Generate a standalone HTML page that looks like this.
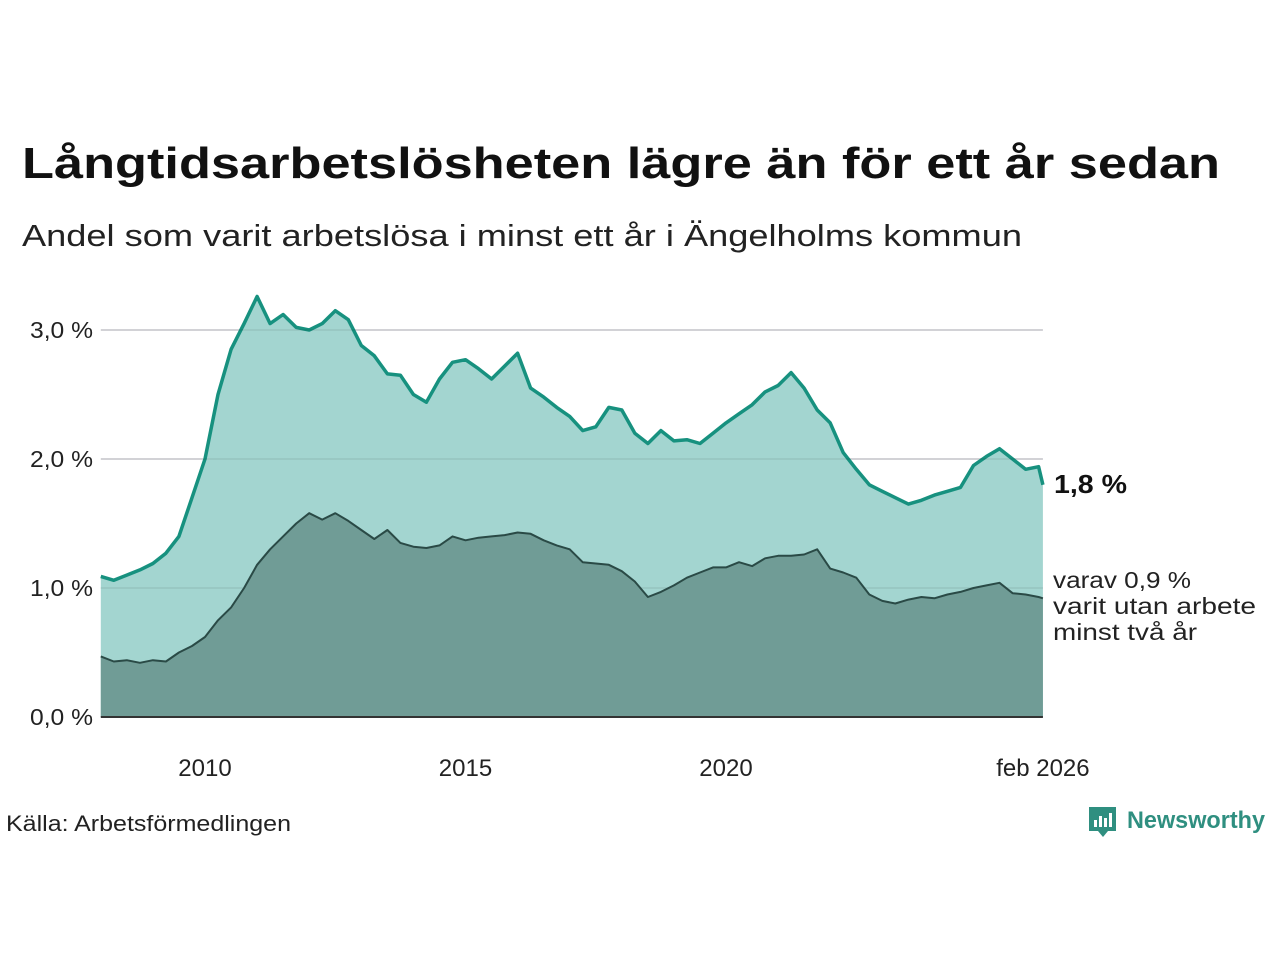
<!DOCTYPE html>
<html><head><meta charset="utf-8"><style>
html,body{margin:0;padding:0;background:#fff;}
svg{display:block;font-family:"Liberation Sans","DejaVu Sans",sans-serif;}
</style></head><body>
<svg id="chart" width="1280" height="960" viewBox="0 0 1280 960">
<text x="22" y="178" font-size="44" font-weight="bold" fill="#111" textLength="1198" lengthAdjust="spacingAndGlyphs">Långtidsarbetslösheten lägre än för ett år sedan</text>
<text x="22" y="246" font-size="31" fill="#222" textLength="1000" lengthAdjust="spacingAndGlyphs">Andel som varit arbetslösa i minst ett år i Ängelholms kommun</text>
<g id="grid"></g>
<g id="areas"></g>
<g id="yaxis"></g>
<g id="xaxis"></g>
<text x="1054" y="493" font-size="26" font-weight="bold" fill="#111" textLength="73" lengthAdjust="spacingAndGlyphs">1,8 %</text>
<g font-size="23" fill="#222">
<text x="1053" y="588" textLength="138" lengthAdjust="spacingAndGlyphs">varav 0,9 %</text>
<text x="1053" y="614" textLength="203" lengthAdjust="spacingAndGlyphs">varit utan arbete</text>
<text x="1053" y="640" textLength="144" lengthAdjust="spacingAndGlyphs">minst två år</text>
</g>
<text x="6" y="831" font-size="22" fill="#222" textLength="285" lengthAdjust="spacingAndGlyphs">Källa: Arbetsförmedlingen</text>
<g>
<path d="M1089 807 h27 v24 h-8 l-5 6 l-5 -6 h-9 z" fill="#2f8f80"/>
<rect x="1094" y="820" width="3" height="7" fill="#fff"/><rect x="1099" y="816" width="3" height="11" fill="#fff"/><rect x="1104" y="818" width="3" height="9" fill="#fff"/><rect x="1109" y="813" width="3" height="14" fill="#fff"/>
<text x="1127" y="828" font-size="24" font-weight="bold" fill="#2f8f80" textLength="138" lengthAdjust="spacingAndGlyphs">Newsworthy</text>
</g>
</svg>
<script>
const totalValues=[1.09,1.06,1.10,1.14,1.19,1.27,1.40,1.70,2.00,2.50,2.85,3.05,3.26,3.05,3.12,3.02,3.00,3.05,3.15,3.08,2.88,2.80,2.66,2.65,2.50,2.44,2.62,2.75,2.77,2.70,2.62,2.72,2.82,2.55,2.48,2.40,2.33,2.22,2.25,2.40,2.38,2.20,2.12,2.22,2.14,2.15,2.12,2.20,2.28,2.35,2.42,2.52,2.57,2.67,2.55,2.38,2.28,2.05,1.92,1.80,1.75,1.70,1.65,1.68,1.72,1.75,1.78,1.95,2.02,2.08,2.00,1.92,1.94,1.80];
const longValues=[0.47,0.43,0.44,0.42,0.44,0.43,0.50,0.55,0.62,0.75,0.85,1.00,1.18,1.30,1.40,1.50,1.58,1.53,1.58,1.52,1.45,1.38,1.45,1.35,1.32,1.31,1.33,1.40,1.37,1.39,1.40,1.41,1.43,1.42,1.37,1.33,1.30,1.20,1.19,1.18,1.13,1.05,0.93,0.97,1.02,1.08,1.12,1.16,1.16,1.20,1.17,1.23,1.25,1.25,1.26,1.30,1.15,1.12,1.08,0.95,0.90,0.88,0.91,0.93,0.92,0.95,0.97,1.00,1.02,1.04,0.96,0.95,0.93,0.92];
const yTicks=[0,1,2,3];
const yTickLabels=["0,0 %","1,0 %","2,0 %","3,0 %"];
const xTicks=[2010,2015,2020,2026.083];
const xTickLabels=["2010","2015","2020","feb 2026"];
const dates=[];
for(let i=0;i<totalValues.length-1;i++)dates.push(2008+i*0.25);
dates.push(2026.083);

const NS="http://www.w3.org/2000/svg";
const x=d=>205+(d-2010)*52.1;
const y=v=>717-v*129;
function mk(tag,attrs,parent){const e=document.createElementNS(NS,tag);for(const k in attrs)e.setAttribute(k,attrs[k]);parent.appendChild(e);return e;}
const grid=document.getElementById('grid'),areas=document.getElementById('areas'),ya=document.getElementById('yaxis'),xa=document.getElementById('xaxis');
const x0=x(dates[0]),x1=x(dates[dates.length-1]);
yTicks.forEach((t,i)=>{
  if(t>0){const g=mk('line',{x1:x0,x2:x1,y1:y(t),y2:y(t),stroke:'#e0e0e4','stroke-width':2},grid);
  
  }
  const l=mk('text',{x:93,y:y(t)+8,'text-anchor':'end','font-size':23,fill:'#222',textLength:63,lengthAdjust:'spacingAndGlyphs'},ya);
  l.textContent=yTickLabels[i];
  
  
});
xTicks.forEach((t,i)=>{
  const l=mk('text',{x:x(t),y:776,'text-anchor':'middle','font-size':24,fill:'#222'},xa);
  l.textContent=xTickLabels[i];
  
  
});
function pts(vals){return vals.map((v,i)=>x(dates[i]).toFixed(1)+','+y(v).toFixed(1)).join(' ');}
function area(vals,fill,stroke,sw,name){
  const a=mk('polygon',{points:x0+','+y(0)+' '+pts(vals)+' '+x1+','+y(0),fill:fill},areas);
  
  
  const l=mk('polyline',{points:pts(vals),fill:'none',stroke:stroke,'stroke-width':sw,'stroke-linejoin':'round'},areas);
  
  
}
area(totalValues,'#a3d5d0','#17917f',3.5,'total');
yTicks.forEach(t=>{if(t>0){const g=mk('line',{x1:x0,x2:x1,y1:y(t),y2:y(t),stroke:'#000','stroke-opacity':0.06,'stroke-width':2},areas);

}});
area(longValues,'#709c96','#2a4a46',2,'long-term');
const base=mk('line',{x1:x0,x2:x1,y1:y(0),y2:y(0),stroke:'#333','stroke-width':2},areas);


</script>
</body></html>
